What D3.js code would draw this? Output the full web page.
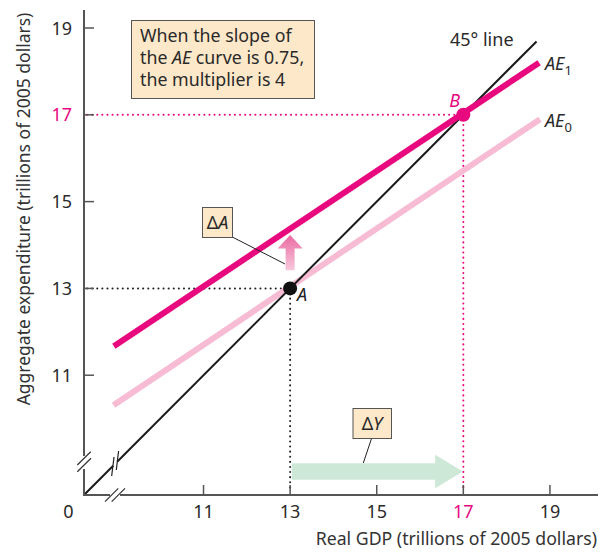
<!DOCTYPE html>
<html><head><meta charset="utf-8">
<script src="https://cdn.jsdelivr.net/npm/d3@7"></script>
<style>
body{margin:0;background:#fff;}
text{font-family:"Noto Sans",Lato,sans-serif;}
</style></head>
<body><svg id="c" width="606" height="552"></svg>
<script>
// ---- data ----
const xTicks = [11, 13, 15, 17, 19];
const yTicks = [11, 13, 15, 17, 19];
const line45 = [[8.24, 8.24], [18.69, 18.69]];
const ae1 = [[8.93, 11.67], [18.75, 18.20]];
const ae0 = [[8.92, 10.31], [18.77, 16.90]];
const pointA = [13, 13];
const pointB = [17, 17];
const deltaY = {from: 13.04, headBase: 16.35, to: 16.99, level: 8.78};
const deltaA = {at: 13, from: 13.42, headBase: 13.92, to: 14.23};

const svg = d3.select("#c");
const x = d3.scaleLinear().domain([8.24, 20.11]).range([84, 598]);
const y = d3.scaleLinear().domain([8.24, 19.415]).range([495, 10]);
const axisCol = "#555", mag = "#e8097f", pink = "#f7bbd3", txt = "#2a2a2a";

// defs
const defs = svg.append("defs");
const g1 = defs.append("linearGradient").attr("id","ga").attr("x1",0).attr("y1",0).attr("x2",0).attr("y2",1);
g1.append("stop").attr("offset","0%").attr("stop-color","#ea6aa1");
g1.append("stop").attr("offset","100%").attr("stop-color","#f8c8dc");

// dotted guides
const dotted = (x1,y1,x2,y2,col)=>svg.append("line").attr("x1",x1).attr("y1",y1).attr("x2",x2).attr("y2",y2)
  .attr("stroke",col).attr("stroke-width",2).attr("stroke-linecap","round").attr("stroke-dasharray","0.1,5");
dotted(x.range()[0]+3, y(pointA[1]), x(pointA[0]), y(pointA[1]), "#222");
dotted(x(pointA[0]), y(pointA[1]), x(pointA[0]), y.range()[0]-3, "#222");
dotted(x.range()[0]+3, y(pointB[1]), x(pointB[0]), y(pointB[1]), mag);
dotted(x(pointB[0]), y(pointB[1]), x(pointB[0]), y.range()[0]-3, mag);

// ΔY arrow
const dy = y(deltaY.level);
svg.append("path").attr("fill","#cde8d6").attr("d",
  `M${x(deltaY.from)},${dy-8.3} L${x(deltaY.headBase)},${dy-8.3} L${x(deltaY.headBase)},${dy-16.7} L${x(deltaY.to)},${dy} L${x(deltaY.headBase)},${dy+16.7} L${x(deltaY.headBase)},${dy+8.3} L${x(deltaY.from)},${dy+8.3} Z`);

// lines
const lg = d3.line().x(d=>x(d[0])).y(d=>y(d[1]));
svg.append("path").datum(ae0).attr("d",lg).attr("stroke",pink).attr("stroke-width",6).attr("fill","none");
svg.append("path").datum(line45).attr("d",lg).attr("stroke","#1a1a1a").attr("stroke-width",2).attr("fill","none");
svg.append("path").datum(ae1).attr("d",lg).attr("stroke",mag).attr("stroke-width",6).attr("fill","none");

// ΔA arrow
const ax = x(deltaA.at);
svg.append("path").attr("fill","url(#ga)").attr("d",
  `M${ax-4.5},${y(deltaA.from)} L${ax-4.5},${y(deltaA.headBase)} L${ax-12.5},${y(deltaA.headBase)} L${ax},${y(deltaA.to)} L${ax+12.5},${y(deltaA.headBase)} L${ax+4.5},${y(deltaA.headBase)} L${ax+4.5},${y(deltaA.from)} Z`);

// axes
svg.append("line").attr("x1",84).attr("y1",y.range()[0]).attr("x2",84).attr("y2",y.range()[1]).attr("stroke",axisCol).attr("stroke-width",2);
svg.append("line").attr("x1",83).attr("y1",495).attr("x2",x.range()[1]).attr("y2",495).attr("stroke",axisCol).attr("stroke-width",2);
xTicks.forEach(t=>{
  svg.append("line").attr("x1",x(t)).attr("x2",x(t)).attr("y1",495).attr("y2",485).attr("stroke",axisCol).attr("stroke-width",1.5);
  svg.append("text").attr("x",x(t)).attr("y",518).attr("text-anchor","middle").attr("font-size",18)
    .attr("fill",t===17?mag:txt).text(t);
});
yTicks.forEach(t=>{
  svg.append("line").attr("x1",84).attr("x2",94).attr("y1",y(t)).attr("y2",y(t)).attr("stroke",axisCol).attr("stroke-width",1.5);
  svg.append("text").attr("x",72).attr("y",y(t)+6.5).attr("text-anchor","end").attr("font-size",18)
    .attr("fill",t===17?mag:txt).text(t);
});
svg.append("text").attr("x",68.5).attr("y",518).attr("text-anchor","middle").attr("font-size",18).attr("fill",txt).text("0");

// axis breaks
svg.append("line").attr("x1",84).attr("y1",456).attr("x2",84).attr("y2",469).attr("stroke","#fff").attr("stroke-width",3);
[[77.3,465,90.7,451.7],[77.3,471.7,91,458.3]].forEach(s=>svg.append("line").attr("x1",s[0]).attr("y1",s[1]).attr("x2",s[2]).attr("y2",s[3]).attr("stroke","#333").attr("stroke-width",1.2));
svg.append("line").attr("x1",110).attr("y1",495).attr("x2",120).attr("y2",495).attr("stroke","#fff").attr("stroke-width",3);
[[105,501.7,118.3,488.3],[111.7,501.7,125,488.3]].forEach(s=>svg.append("line").attr("x1",s[0]).attr("y1",s[1]).attr("x2",s[2]).attr("y2",s[3]).attr("stroke","#333").attr("stroke-width",1.2));
svg.append("line").attr("x1",113).attr("y1",465.5).attr("x2",117).attr("y2",461.5).attr("stroke","#fff").attr("stroke-width",4);
[[111.7,476,114,457],[116.3,470,118.6,451]].forEach(s=>svg.append("line").attr("x1",s[0]).attr("y1",s[1]).attr("x2",s[2]).attr("y2",s[3]).attr("stroke","#222").attr("stroke-width",1.2));

// points
svg.append("circle").attr("cx",x(pointA[0])).attr("cy",y(pointA[1])).attr("r",7).attr("fill","#111");
svg.append("circle").attr("cx",x(pointB[0])).attr("cy",y(pointB[1])).attr("r",7).attr("fill",mag);
svg.append("text").attr("x",x(pointA[0])+7).attr("y",y(pointA[1])+13).attr("font-size",18).attr("font-style","italic").attr("fill","#222").text("A");
svg.append("text").attr("x",x(pointB[0])-14).attr("y",y(pointB[1])-8).attr("font-size",18).attr("font-style","italic").attr("fill",mag).text("B");

// line labels
svg.append("text").attr("x",450).attr("y",46).attr("font-size",18).attr("fill",txt).text("45° line");
const sub = (xx,yy,s)=>{const t=svg.append("text").attr("x",xx).attr("y",yy).attr("font-size",18).attr("fill",txt);
  t.append("tspan").attr("font-style","italic").text("AE");
  t.append("tspan").attr("font-size",13).attr("dy",5).text(s);};
sub(545,70,"1");
sub(545,127,"0");

// text box
svg.append("rect").attr("x",131.5).attr("y",20.5).attr("width",183).attr("height",78).attr("fill","#fde8c9").attr("stroke","#555").attr("stroke-width",1);
const tb = svg.append("text").attr("font-size",17.8).attr("fill",txt);
tb.append("tspan").attr("x",140).attr("y",42).text("When the slope of");
tb.append("tspan").attr("x",140).attr("y",64).text("the ");
tb.append("tspan").attr("font-style","italic").text("AE");
tb.append("tspan").text(" curve is 0.75,");
tb.append("tspan").attr("x",140).attr("y",86).text("the multiplier is 4");

// ΔA label
svg.append("line").attr("x1",231.7).attr("y1",236.7).attr("x2",285).attr("y2",264).attr("stroke","#222").attr("stroke-width",1);
svg.append("rect").attr("x",202.5).attr("y",207.5).attr("width",30).attr("height",30).attr("fill","#fde8c9").attr("stroke","#555");
const ta = svg.append("text").attr("x",217.5).attr("y",229).attr("text-anchor","middle").attr("font-size",18).attr("fill",txt);
ta.append("tspan").text("Δ"); ta.append("tspan").attr("font-style","italic").text("A");

// ΔY label
svg.append("line").attr("x1",371.7).attr("y1",438).attr("x2",363.3).attr("y2",463).attr("stroke","#222").attr("stroke-width",1);
svg.append("rect").attr("x",353).attr("y",408.5).attr("width",38.5).attr("height",30).attr("fill","#fde8c9").attr("stroke","#555");
const ty = svg.append("text").attr("x",372.2).attr("y",430).attr("text-anchor","middle").attr("font-size",18).attr("fill",txt);
ty.append("tspan").text("Δ"); ty.append("tspan").attr("font-style","italic").text("Y");

// axis titles
svg.append("text").attr("x",597).attr("y",545).attr("text-anchor","end").attr("font-size",17.7).attr("fill","#333").text("Real GDP (trillions of 2005 dollars)");
svg.append("text").attr("transform","translate(30,209) rotate(-90)").attr("text-anchor","middle").attr("font-size",17.5).attr("fill","#333").text("Aggregate expenditure (trillions of 2005 dollars)");
</script></body></html>
